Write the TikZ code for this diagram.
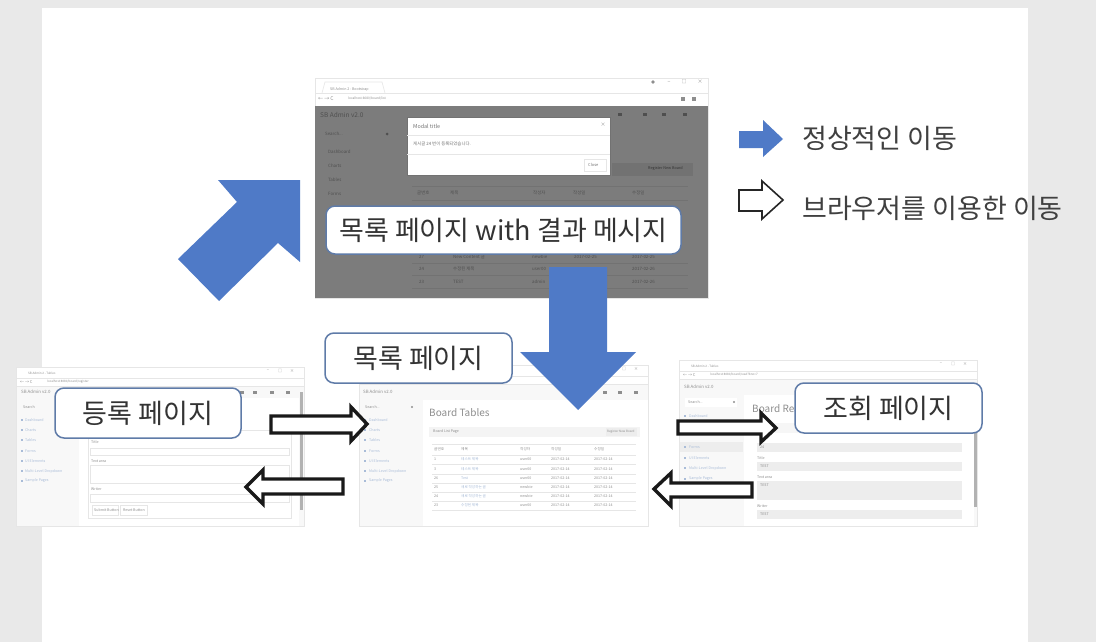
\documentclass[tikz,border=0pt]{standalone}
\usepackage{fontspec}
\setmainfont{Noto Sans CJK KR}
\definecolor{pagebg}{HTML}{E9E9E9}
\definecolor{arrowblue}{HTML}{4F7AC7}
\definecolor{labelline}{HTML}{5F7BA8}
\definecolor{dim}{HTML}{7C7C7C}
\definecolor{dimline}{HTML}{727272}
\definecolor{dimtext}{HTML}{4F4F4F}
\definecolor{uitext}{HTML}{8E8E8E}
\definecolor{uilink}{HTML}{A9BCD8}
\definecolor{uiline}{HTML}{E6E6E6}
\definecolor{uifield}{HTML}{EDEDED}
\definecolor{shot}{HTML}{F8F8F8}
\tikzset{
  x=1pt,y=-1pt,
  labelbox/.style={draw=labelline,line width=1.5pt,fill=white,rounded corners=9pt,anchor=center,text=black!80,inner sep=0pt,font=\fontsize{27}{27}\selectfont},
  legendtext/.style={anchor=west,text=black!75,inner sep=0pt,font=\fontsize{27}{27}\selectfont},
  bluearrow/.style={fill=arrowblue,draw=none},
  blockarrow/.style={fill=white,draw=black!90,line width=3.4pt,line join=miter},
  thinarrow/.style={fill=white,draw=black!85,line width=1.6pt,line join=miter},
  ui/.style={anchor=west,inner sep=0pt,text=uitext,font=\fontsize{3.6}{4}\selectfont},
  uilinktxt/.style={ui,text=uilink},
  dui/.style={anchor=west,inner sep=0pt,text=dimtext,font=\fontsize{4.4}{5}\selectfont},
  title/.style={anchor=west,inner sep=0pt,text=uitext,font=\fontsize{10}{10}\selectfont},
  hair/.style={draw=uiline,line width=.6pt},
}
% browser frame: #1 left, #2 top, #3 right, #4 bottom, #5 tab title, #6 address
\newcommand{\browser}[6]{%
  \fill[shot] (#1,#2) rectangle (#3,#4);
  \fill[white] (#1,#2) rectangle (#3,#2+19);
  \draw[hair] (#1,#2+11) -- (#3,#2+11);
  \draw[hair] (#1,#2+19) -- (#3,#2+19);
  \draw[hair] (#1,#2) rectangle (#3,#4);
  \node[ui,font=\fontsize{3}{3}\selectfont] at (#1+12,#2+6) {#5};
  \node[ui,font=\fontsize{3}{3}\selectfont] at (#1+31,#2+15) {#6};
  \node[ui,anchor=center,font=\fontsize{4}{4}\selectfont] at (#3-36,#2+4) {−};
  \node[ui,anchor=center,font=\fontsize{4}{4}\selectfont] at (#3-24,#2+4) {□};
  \node[ui,anchor=center,font=\fontsize{4}{4}\selectfont] at (#3-12,#2+4) {×};
  \node[ui,font=\fontsize{4}{4}\selectfont] at (#1+4,#2+15) {← → C};
}
% small header icons
\newcommand{\hdricons}[3]{%
  \foreach \xx in {#1}{\fill[#3] (\xx,#2-1.500) rectangle (\xx+3.500,#2+1.500);}
}
\begin{document}
\begin{tikzpicture}
\useasboundingbox (0,0) rectangle (1096,642);
\fill[pagebg] (0,0) rectangle (1096,642);
\fill[white] (42,8) rectangle (1028,642);

% ---------- top screenshot ----------
\fill[white] (315,78) rectangle (708,106);
\draw[hair] (315,93) -- (708,93);
\draw[uiline,line width=.6pt] (315,78) rectangle (708,298);
\draw[uiline,line width=.6pt] (322,93) -- (325,82) -- (382,82) -- (385,93);
\node[ui,font=\fontsize{3.6}{4}\selectfont] at (330,89) {SB Admin 2 - Bootstrap};
\node[ui,font=\fontsize{3.2}{4}\selectfont] at (348,99) {localhost:8080/board/list};
\node[ui,font=\fontsize{5}{5}\selectfont] at (318,99) {← → C};
\node[ui,anchor=center,font=\fontsize{5}{5}\selectfont] at (669,82) {−};
\node[ui,anchor=center,font=\fontsize{5}{5}\selectfont] at (684,82) {□};
\node[ui,anchor=center,font=\fontsize{5}{5}\selectfont] at (700,82) {×};
\fill[uitext] (653,82) circle (1.800);
\fill[uitext] (681,97) rectangle (685,101);
\fill[uitext] (692,97) rectangle (696,101);
\fill[dim] (315,106) rectangle (708,298);
\node[dui,font=\fontsize{6.5}{7}\selectfont] (ttop) at (320,115) {SB Admin v2.0};
\node[dui] at (325,134) {Search...};
\fill[dimtext] (387,134) circle (1.500);
\node[dui] at (328,152) {Dashboard};
\node[dui] at (328,166) {Charts};
\node[dui] at (328,180) {Tables};
\node[dui] at (328,194) {Forms};
\hdricons{618,643,662,683}{115}{dimtext}
\node[dui] at (417,193) {글번호};
\node[dui] at (450,193) {제목};
\node[dui] at (533,193) {작성자};
\node[dui] at (573,193) {작성일};
\node[dui] at (632,193) {수정일};
\draw[dimline,line width=.5pt] (412,186) -- (688,186) (412,200) -- (688,200) (412,263) -- (688,263) (412,275) -- (688,275) (412,288) -- (688,288);
\node[dui] at (419,257) {27};
\node[dui] at (419,269) {24};
\node[dui] at (419,282) {23};
\node[dui] at (453,257) {New Content 글};
\node[dui] at (453,269) {수정된 제목};
\node[dui] at (453,282) {TEST};
\node[dui] at (532,257) {newbie};
\node[dui] at (532,269) {user00};
\node[dui] at (532,282) {admin};
\node[dui] at (574,257) {2017-02-25};
\node[dui] at (632,257) {2017-02-25};
\node[dui] at (632,269) {2017-02-26};
\node[dui] at (632,282) {2017-02-26};
\fill[dimline] (612,163) rectangle (693,176);
\node[dui,text=black!80,font=\fontsize{3.8}{4}\selectfont] at (648,168) {Register New Board};
\fill[white,draw=dimline,line width=.8pt] (407,117) rectangle (610,175);
\draw[uiline,line width=.5pt] (407,135) -- (610,135) (407,154) -- (610,154);
\node[ui,text=black!55,font=\fontsize{5.4}{6}\selectfont] at (413,126) {Modal title};
\node[ui,text=black!55,font=\fontsize{4.4}{5}\selectfont] at (413,144) {게시글 24 번이 등록되었습니다.};
\node[ui,anchor=center,font=\fontsize{5}{5}\selectfont] at (603,125) {×};
\draw[uiline,line width=.6pt] (584,159) rectangle (606,171);
\node[ui,text=black!55,font=\fontsize{4}{5}\selectfont] at (588,165) {Close};

% ---------- left screenshot ----------
\browser{16}{367}{304}{526}{SB Admin 2 - Tables}{localhost:8080/board/register}
\fill[white] (79,398) rectangle (299,526);
\draw[hair] (88,430) rectangle (291,518);
\node[ui,font=\fontsize{4.4}{5}\selectfont] at (21,392) {SB Admin v2.0};
\node[ui] at (23,407) {Search};
\foreach \yy/\tt in {420/Dashboard,430/Charts,440/Tables,451/Forms,461/UI Elements,471/Multi-Level Dropdown,481/Sample Pages}{
  \fill[uilink] (20.500,\yy-1) rectangle (22.500,\yy+1);
  \node[uilinktxt] at (25,\yy) {\tt};
}
\hdricons{240,253,270,286}{392}{uitext}
\node[ui] at (91,442) {Title};
\draw[hair] (90,448) rectangle (289,455);
\node[ui] at (91,461) {Text area};
\draw[hair] (90,465) rectangle (289,483);
\node[ui] at (91,489) {Writer};
\draw[hair] (90,494) rectangle (289,502);
\draw[hair] (92,505) rectangle (118,515);
\node[ui] at (94,510) {Submit Button};
\draw[hair] (120,505) rectangle (147,515);
\node[ui] at (123,510) {Reset Button};
\fill[black!30] (300,392) rectangle (303,510);

% ---------- middle screenshot ----------
\browser{359}{365}{648}{526}{SB Admin 2 - Tables}{localhost:8080/board/list}
\fill[white] (423,400) rectangle (648,526);
\node[ui,font=\fontsize{4.4}{5}\selectfont] at (363,392) {SB Admin v2.0};
\node[ui] at (365,407) {Search...};
\fill[uitext] (412,407) circle (1.200);
\foreach \yy/\tt in {420/Dashboard,430/Charts,440/Tables,451/Forms,461/UI Elements,471/Multi-Level Dropdown,481/Sample Pages}{
  \fill[uilink] (364,\yy-1) rectangle (366,\yy+1);
  \node[uilinktxt] at (369,\yy) {\tt};
}
\hdricons{603,618,634}{392}{uitext}
\node[title] (boardtitle) at (429,413) {Board Tables};
\fill[uifield!60] (429,427) rectangle (640,437);
\node[ui] at (433,432) {Board List Page};
\fill[uifield] (606,428) rectangle (637,436);
\node[ui,font=\fontsize{3}{3}\selectfont] at (607,432) {Register New Board};
\draw[hair] (432,444) -- (636,444) (432,455) -- (636,455) (432,464.500) -- (636,464.500) (432,474) -- (636,474) (432,483) -- (636,483) (432,492) -- (636,492) (432,501) -- (636,501) (432,510) -- (636,510);
\node[ui] at (434,449.500) {글번호};
\node[ui] at (461,449.500) {제목};
\node[ui] at (520,449.500) {작성자};
\node[ui] at (551,449.500) {작성일};
\node[ui] at (594,449.500) {수정일};
\foreach \yy/\nn/\tt/\uu in {459.500/1/테스트 제목/user00,469/3/테스트 제목/user00,478.500/26/Test/user00,487.500/25/새로 작성하는 글/newbie,496.500/24/새로 작성하는 글/newbie,505.500/23/수정된 제목/user00}{
  \node[ui] at (434,\yy) {\nn};
  \node[uilinktxt] at (461,\yy) {\tt};
  \node[ui] at (520,\yy) {\uu};
  \node[ui] at (551,\yy) {2017-02-14};
  \node[ui] at (594,\yy) {2017-02-14};
}

% ---------- right screenshot ----------
\browser{679}{360}{977}{526}{SB Admin 2 - Tables}{localhost:8080/board/read?bno=7}
\fill[white] (744,395) rectangle (974,526);
\node[ui,font=\fontsize{4.4}{5}\selectfont] at (684,387) {SB Admin v2.0};
\fill[white] (685,398) rectangle (737,407);
\node[ui] at (688,402) {Search...};
\fill[uitext] (734,402) circle (1.200);
\fill[uifield] (680,442) rectangle (743,452);
\foreach \yy/\tt in {416/Dashboard,447/Forms,458/UI Elements,468/Multi-Level Dropdown,479/Sample Pages}{
  \fill[uilink] (684,\yy-1) rectangle (686,\yy+1);
  \node[uilinktxt] at (689,\yy) {\tt};
}
\node[title] at (752,409) {Board Read};
\fill[uifield!50] (752,423) rectangle (800,433);
\fill[uifield] (757,443) rectangle (962,452);
\node[ui] at (760,447) {24};
\node[ui] at (757,458) {Title};
\fill[uifield] (757,462) rectangle (962,471);
\node[ui] at (760,466) {TEST};
\node[ui] at (757,477) {Text area};
\fill[uifield] (757,481) rectangle (962,500);
\node[ui] at (760,485) {TEST};
\node[ui] at (757,506) {Writer};
\fill[uifield] (757,510) rectangle (962,519);
\node[ui] at (760,514.500) {TEST};
\fill[black!30] (974,383) rectangle (977,507);

% ---------- blue arrows ----------
\fill[bluearrow] (218,180) -- (300,180) -- (300,262) -- (278,243) -- (219,301) -- (178,259) -- (237,202) -- cycle;
\fill[bluearrow] (549,267) -- (607,267) -- (607,352) -- (636,352) -- (578,410) -- (520,352) -- (549,352) -- cycle;
\fill[bluearrow] (739,131) -- (763,131) -- (763,120) -- (783,139) -- (763,157) -- (763,148) -- (739,148) -- cycle;

% ---------- black outline arrows ----------
\draw[blockarrow] (271,416) -- (351,416) -- (351,407) -- (367,424) -- (351,441) -- (351,433) -- (271,433) -- cycle;
\draw[blockarrow] (343,479) -- (263,479) -- (263,470) -- (246,487) -- (263,504) -- (263,494) -- (343,494) -- cycle;
\draw[blockarrow] (678,421) -- (761,421) -- (761,413) -- (776,428) -- (761,442) -- (761,434) -- (678,434) -- cycle;
\draw[blockarrow] (752,483) -- (671,483) -- (671,473) -- (654,489) -- (671,506) -- (671,497) -- (752,497) -- cycle;
\draw[thinarrow] (739,190) -- (762,190) -- (762,181) -- (783,200) -- (762,219) -- (762,211) -- (739,211) -- cycle;

% ---------- labels ----------
\node[labelbox,minimum width=355pt,minimum height=48pt] (l1) at (503.500,230) {목록 페이지 with 결과 메시지};
\node[labelbox,minimum width=187pt,minimum height=50pt] (l2) at (418.500,358) {목록 페이지};
\node[labelbox,minimum width=186pt,minimum height=50pt] (l3) at (148,413) {등록 페이지};
\node[labelbox,minimum width=187pt,minimum height=50pt] (l4) at (888.500,408) {조회 페이지};

% ---------- legend ----------
\node[legendtext] (k1) at (802,138) {정상적인 이동};
\node[legendtext] (k2) at (802,208) {브라우저를 이용한 이동};
\end{tikzpicture}
\end{document}
